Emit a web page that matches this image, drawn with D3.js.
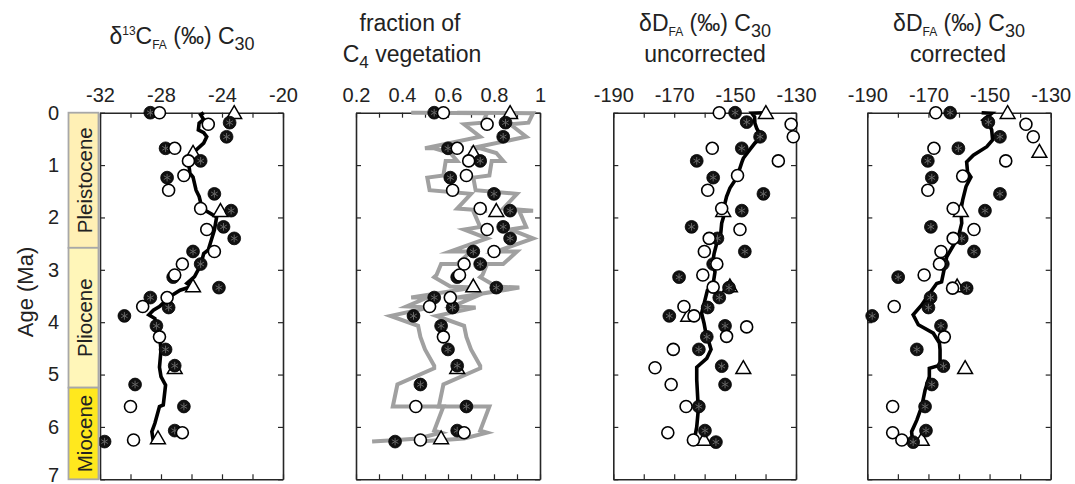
<!DOCTYPE html>
<html><head><meta charset="utf-8">
<script src="https://cdn.jsdelivr.net/npm/d3@7"></script>
<style>
html,body{margin:0;padding:0;background:#fff;}
svg{display:block;font-family:"Liberation Sans",Arial,Helvetica,sans-serif;}
</style></head>
<body>
<svg id="chart" width="1075" height="484"></svg>
<script>
// ---------------- DATA ----------------
const yTickValues = [0,1,2,3,4,5,6,7];
const epochNames = ["Pleistocene","Pliocene","Miocene"];
const epochStart = [0, 2.58, 5.25];
const epochEnd   = [2.58, 5.25, 7];
const epochColors = ["#FFF0B5","#FFF6B9","#FFE81E"];

// panel 1 & 2 sample ages
const ageFilled12 = [0.00,0.19,0.46,0.68,0.92,1.24,1.55,1.87,2.18,2.40,2.65,2.89,3.14,3.34,3.53,3.72,3.88,4.07,4.52,4.83,5.19,5.61,6.07,6.28];
const ageOpen12   = [0.00,0.22,0.68,0.92,1.20,1.48,1.83,2.23,2.65,2.89,3.10,3.53,3.70,4.28,5.61,6.11,6.25];
const ageTri12    = [0.01,0.77,1.88,3.32,4.88,6.22];

const d13cFilled = [-28.7,-23.5,-23.7,-27.7,-25.4,-27.6,-24.5,-23.4,-23.9,-23.2,-25.9,-25.4,-27.2,-24.2,-28.7,-27.5,-30.4,-28.3,-27.7,-27.1,-29.7,-26.5,-27.1,-31.7];
const d13cOpen   = [-28.1,-24.9,-27.1,-26.2,-26.5,-27.5,-25.4,-25.0,-24.5,-26.6,-27.1,-27.6,-29.2,-28.1,-30.0,-26.6,-29.8];
const d13cTri    = [-23.2,-25.9,-24.1,-25.9,-27.1,-28.2];
const d13cLineAge = [0.00,0.04,0.13,0.20,0.33,0.38,0.46,0.58,0.74,0.84,0.94,1.16,1.23,1.48,1.60,1.83,1.95,1.99,2.24,2.43,2.62,2.69,2.91,3.13,3.26,3.32,3.39,3.51,3.70,3.77,3.86,3.93,4.09,4.24,4.53,4.86,5.04,5.20,5.58,5.61,5.93,6.09,6.28];
const d13cLine    = [-25.2,-25.4,-25.2,-25.5,-25.55,-25.2,-25.0,-25.2,-25.8,-25.9,-26.2,-26.1,-25.9,-25.7,-25.5,-25.3,-24.6,-24.35,-24.5,-24.7,-24.9,-25.2,-25.4,-25.8,-26.3,-26.0,-26.75,-27.4,-28.1,-28.5,-28.8,-28.4,-28.3,-28.1,-28.0,-28.1,-28.0,-27.7,-27.85,-28.1,-28.4,-28.6,-28.5];

const c4Filled = [0.54,0.85,0.84,0.60,0.74,0.61,0.80,0.87,0.84,0.87,0.71,0.74,0.64,0.81,0.54,0.62,0.45,0.57,0.60,0.64,0.48,0.68,0.64,0.37];
const c4Open   = [0.58,0.77,0.64,0.69,0.68,0.62,0.74,0.77,0.80,0.67,0.65,0.61,0.52,0.58,0.46,0.67,0.48];
const c4Tri    = [0.87,0.71,0.81,0.71,0.64,0.57];
const c4BandAge = [0.00,0.00,0.01,0.19,0.22,0.46,0.68,0.68,0.77,0.92,0.92,1.20,1.24,1.48,1.55,1.83,1.87,1.88,2.18,2.23,2.40,2.65,2.65,2.89,2.89,3.10,3.14,3.32,3.34,3.53,3.53,3.70,3.72,3.88,4.07,4.28,4.52,4.83,4.88,5.19,5.61,5.61,6.07,6.11,6.22,6.25,6.28];
const c4BandLow  = [0.44,0.48,0.77,0.75,0.67,0.74,0.50,0.54,0.61,0.64,0.59,0.58,0.51,0.52,0.70,0.64,0.77,0.71,0.74,0.67,0.77,0.61,0.70,0.64,0.57,0.55,0.54,0.61,0.71,0.44,0.51,0.42,0.52,0.35,0.47,0.48,0.50,0.54,0.54,0.38,0.36,0.58,0.54,0.57,0.47,0.38,0.27];
const c4BandHigh = [0.64,0.68,0.97,0.95,0.87,0.94,0.70,0.74,0.81,0.84,0.79,0.78,0.71,0.72,0.90,0.84,0.97,0.91,0.94,0.87,0.97,0.81,0.90,0.84,0.77,0.75,0.74,0.81,0.91,0.64,0.71,0.62,0.72,0.55,0.67,0.68,0.70,0.74,0.74,0.58,0.56,0.78,0.74,0.77,0.67,0.58,0.47];

// panel 3 (dD uncorrected)
const ageFilled3 = [0.00,0.18,0.46,0.68,0.92,1.24,1.55,1.87,2.18,2.40,2.65,2.89,3.14,3.34,3.53,3.72,3.88,4.07,4.28,4.52,4.84,5.19,5.61,6.07,6.29];
const dDuncFilled = [-150.0,-146.2,-141.8,-147.8,-162.6,-157.2,-140.7,-147.8,-164.3,-155.8,-146.8,-157.2,-168.4,-152.0,-155.2,-159.0,-171.6,-153.3,-159.3,-161.9,-154.4,-153.3,-161.9,-159.9,-156.3];
const ageOpen3 = [0.00,0.22,0.46,0.68,0.92,1.20,1.48,1.83,2.23,2.40,2.65,2.89,3.10,3.33,3.70,3.88,4.09,4.27,4.52,4.87,5.19,5.61,6.11,6.25];
const dDuncOpen = [-155.2,-131.6,-130.9,-157.5,-135.8,-149.2,-159.0,-154.4,-148.4,-158.5,-160.1,-156.0,-160.6,-157.2,-166.8,-163.5,-146.2,-152.8,-170.3,-176.3,-171.0,-166.1,-172.1,-163.7];
const ageTri3 = [0.01,1.88,3.32,3.88,4.88,6.25];
const dDuncTri = [-139.9,-153.9,-151.7,-165.4,-147.3,-160.2];
const dDuncLineAge = [0.00,0.01,0.08,0.20,0.30,0.46,0.58,0.70,0.87,0.95,1.09,1.29,1.44,1.60,1.79,1.95,2.11,2.30,2.49,2.69,2.88,3.04,3.26,3.39,3.58,3.83,4.02,4.21,4.34,4.52,4.69,4.86,5.10,5.42,5.68,6.00,6.19,6.28];
const dDuncLine = [-140.5,-144.5,-143.6,-143.5,-142.9,-141.3,-143.5,-145.1,-147.3,-147.8,-148.6,-150.0,-151.7,-152.8,-153.6,-153.6,-154.4,-154.7,-156.0,-156.9,-157.4,-156.6,-157.2,-159.1,-159.9,-161.0,-160.2,-159.6,-158.8,-157.9,-159.3,-162.6,-162.6,-162.3,-162.1,-162.6,-163.2,-162.9];

// panel 4 (dD corrected)
const ageFilled4 = [0.00,0.18,0.46,0.68,0.92,1.24,1.55,1.87,2.18,2.40,2.65,2.89,3.14,3.35,3.53,3.72,3.88,4.07,4.52,4.84,5.19,5.61,6.07,6.29];
const dDcorFilled = [-162.9,-150.4,-146.6,-160.2,-170.2,-168.9,-146.6,-151.5,-169.2,-159.1,-155.1,-165.3,-179.9,-157.5,-169.3,-170.0,-188.4,-165.9,-173.8,-165.1,-168.9,-171.1,-170.8,-175.0];
const ageOpen4 = [0.00,0.22,0.46,0.68,0.92,1.21,1.48,1.83,2.23,2.40,2.65,2.89,3.10,3.35,3.70,4.28,5.61,6.11,6.25];
const dDcorOpen = [-167.6,-138.1,-135.7,-168.2,-144.7,-158.8,-170.2,-161.9,-155.1,-161.9,-165.9,-166.4,-171.4,-162.1,-181.2,-164.8,-181.7,-181.7,-178.7];
const ageTri4 = [0.01,0.75,1.88,3.32,4.88,6.25];
const dDcorTri = [-144.1,-133.7,-159.4,-160.6,-158.0,-172.2];
const dDcorLineAge = [0.00,0.01,0.14,0.22,0.33,0.52,0.65,0.81,0.94,1.13,1.23,1.41,1.67,1.86,2.11,2.37,2.56,2.75,3.00,3.23,3.26,3.48,3.67,3.86,4.05,4.21,4.40,4.53,4.82,4.88,5.04,5.30,5.61,5.87,6.09,6.29];
const dDcorLine = [-152.6,-149.3,-152.1,-150.1,-149.3,-149.0,-150.9,-155.3,-157.5,-157.2,-156.1,-157.7,-158.8,-159.4,-159.1,-160.2,-162.1,-164.0,-164.9,-165.7,-167.3,-170.0,-172.2,-175.0,-173.3,-168.4,-166.4,-166.2,-166.2,-169.7,-169.7,-171.1,-172.2,-173.8,-175.5,-175.2];

// axis ticks
const d13cTicks = [-32,-30,-28,-26,-24,-22,-20];
const d13cLabels = [-32,-28,-24,-20];
const c4Ticks = [0.2,0.3,0.4,0.5,0.6,0.7,0.8,0.9,1.0];
const c4Labels = [0.2,0.4,0.6,0.8,1];
const dDTicks = [-190,-180,-170,-160,-150,-140,-130];
const dDLabels = [-190,-170,-150,-130];

// ---------------- LAYOUT ----------------
const svg = d3.select("#chart");
const yTop = 112.7, yBot = 479.3;
const y = d3.scaleLinear().domain([0,7]).range([yTop, yBot]);
const axisColor = "#262626";

const panels = [
  {x0:100, x1:283, domain:[-32,-20], ticks:d13cTicks, labels:d13cLabels,
   fA:ageFilled12, fV:d13cFilled, oA:ageOpen12, oV:d13cOpen, tA:ageTri12, tV:d13cTri,
   lA:d13cLineAge, lV:d13cLine},
  {x0:356, x1:540, domain:[0.2,1], ticks:c4Ticks, labels:c4Labels,
   fA:ageFilled12, fV:c4Filled, oA:ageOpen12, oV:c4Open, tA:ageTri12, tV:c4Tri,
   band:true},
  {x0:613.3, x1:796, domain:[-190,-130], ticks:dDTicks, labels:dDLabels,
   fA:ageFilled3, fV:dDuncFilled, oA:ageOpen3, oV:dDuncOpen, tA:ageTri3, tV:dDuncTri,
   lA:dDuncLineAge, lV:dDuncLine},
  {x0:867.3, x1:1050.7, domain:[-190,-130], ticks:dDTicks, labels:dDLabels,
   fA:ageFilled4, fV:dDcorFilled, oA:ageOpen4, oV:dDcorOpen, tA:ageTri4, tV:dDcorTri,
   lA:dDcorLineAge, lV:dDcorLine}
];

const fmt = v => String(v);

panels.forEach((p, i) => {
  const x = d3.scaleLinear().domain(p.domain).range([p.x0, p.x1]);
  const g = svg.append("g");
  const isLab = v => p.labels.some(l => Math.abs(l - v) < 1e-9);

  g.append("g").attr("transform", `translate(0,${yTop})`)
    .call(d3.axisTop(x).tickValues(p.ticks).tickSizeInner(-5).tickSizeOuter(0).tickPadding(11)
      .tickFormat(v => isLab(v) ? fmt(v) : ""));
  g.append("g").attr("transform", `translate(0,${yBot})`)
    .call(d3.axisBottom(x).tickValues(p.ticks).tickSizeInner(-5).tickSizeOuter(0).tickFormat(""));
  const la = g.append("g").attr("transform", `translate(${p.x0},0)`)
    .call(d3.axisLeft(y).tickValues(yTickValues).tickSizeInner(-5).tickSizeOuter(0).tickPadding(41)
      .tickFormat(v => i === 0 ? String(v) : ""));
  g.append("g").attr("transform", `translate(${p.x1},0)`)
    .call(d3.axisRight(y).tickValues(yTickValues).tickSizeInner(-5).tickSizeOuter(0).tickFormat(""));

  g.selectAll(".domain").attr("stroke", axisColor).attr("stroke-width", 1.6);
  g.selectAll(".tick line").attr("stroke", axisColor).attr("stroke-width", 1.2);
  g.selectAll(".tick text").attr("fill", "#222").attr("font-size", 20)
    .attr("font-family", '"Liberation Sans",Arial,Helvetica,sans-serif');
  // keep the bottom label "7" inside the picture
  la.selectAll(".tick text").filter(v => v === 7).attr("dy", "0.1em");

  const line = d3.line().x(d => x(d[1])).y(d => y(d[0]));

  if (p.band) {
    const lo = c4BandAge.map((a, k) => [a, c4BandLow[k]]);
    const hi = c4BandAge.map((a, k) => [a, c4BandHigh[k]]);
    [lo, hi].forEach(arr => {
      g.append("path").attr("d", line(arr)).attr("fill", "none")
        .attr("stroke", "#a0a0a0").attr("stroke-width", 4)
        .attr("stroke-linejoin", "miter").attr("stroke-miterlimit", 6);
    });
  }
  if (p.lA) {
    const arr = p.lA.map((a, k) => [a, p.lV[k]]);
    g.append("path").attr("d", line(arr)).attr("fill", "none")
      .attr("stroke", "#000").attr("stroke-width", 3.6)
      .attr("stroke-linejoin", "miter").attr("stroke-miterlimit", 6);
  }

  const tri = d3.symbol(d3.symbolTriangle, 95);
  g.selectAll(".tri").data(p.tA.map((a, k) => [a, p.tV[k]])).join("path")
    .attr("d", tri).attr("transform", d => `translate(${x(d[1])},${y(d[0]) + 1})`)
    .attr("fill", "#fff").attr("stroke", "#000").attr("stroke-width", 1.5);

  const fData = p.fA.map((a, k) => [a, p.fV[k]]);
  g.selectAll(".fc").data(fData).join("circle")
    .attr("cx", d => x(d[1])).attr("cy", d => y(d[0])).attr("r", 6.4)
    .attr("fill", "#111").attr("stroke", "#000").attr("stroke-width", 0.8);
  const ast = d3.symbol(d3.symbolAsterisk, 40);
  g.selectAll(".fa").data(fData).join("path")
    .attr("d", ast).attr("transform", d => `translate(${x(d[1])},${y(d[0])})`)
    .attr("fill", "none").attr("stroke", "#666").attr("stroke-width", 1);

  g.selectAll(".oc").data(p.oA.map((a, k) => [a, p.oV[k]])).join("circle")
    .attr("cx", d => x(d[1])).attr("cy", d => y(d[0])).attr("r", 6)
    .attr("fill", "#fff").attr("stroke", "#000").attr("stroke-width", 1.6);
});

// epoch bar
const eg = svg.append("g");
epochNames.forEach((name, k) => {
  eg.append("rect").attr("x", 68.5).attr("width", 30)
    .attr("y", y(epochStart[k])).attr("height", y(epochEnd[k]) - y(epochStart[k]))
    .attr("fill", epochColors[k]).attr("stroke", "#a8a8a8").attr("stroke-width", 1.8);
  const cy = (y(epochStart[k]) + y(epochEnd[k])) / 2;
  eg.append("text").attr("transform", `translate(84.5,${cy}) rotate(-90)`)
    .attr("text-anchor", "middle").attr("dominant-baseline", "central")
    .attr("font-size", 20.5).attr("fill", "#222").text(name);
});

// y-axis label
svg.append("text").attr("transform", `translate(25,${(yTop + yBot) / 2 - 4}) rotate(-90)`)
  .attr("text-anchor", "middle").attr("dominant-baseline", "central")
  .attr("font-size", 22).attr("fill", "#222").text("Age (Ma)");

// titles
function deltaTitle(cx, yb, iso) {
  const t = svg.append("text").attr("x", cx).attr("y", yb).attr("text-anchor", "middle")
    .attr("font-size", 23).attr("fill", "#222");
  t.append("tspan").text("δ");
  if (iso === "13C") {
    t.append("tspan").attr("font-size", 12).attr("dy", -9).text("13");
    t.append("tspan").attr("dy", 9).text("C");
  } else {
    t.append("tspan").text("D");
  }
  t.append("tspan").attr("font-size", 12).attr("dy", 5).text("FA");
  t.append("tspan").attr("dy", -5).text(" (‰) C");
  t.append("tspan").attr("font-size", 18).attr("dy", 6).text("30");
  return t;
}
deltaTitle(182, 44, "13C");
svg.append("text").attr("x", 410).attr("y", 31).attr("text-anchor", "middle")
  .attr("font-size", 23).attr("fill", "#222").text("fraction of");
const ft2 = svg.append("text").attr("x", 412).attr("y", 62).attr("text-anchor", "middle")
  .attr("font-size", 23).attr("fill", "#222");
ft2.append("tspan").text("C");
ft2.append("tspan").attr("font-size", 17).attr("dy", 6).text("4");
ft2.append("tspan").attr("dy", -6).text(" vegetation");

deltaTitle(705, 31, "D");
svg.append("text").attr("x", 705).attr("y", 62).attr("text-anchor", "middle")
  .attr("font-size", 23).attr("fill", "#222").text("uncorrected");
deltaTitle(959, 31, "D");
svg.append("text").attr("x", 958).attr("y", 62).attr("text-anchor", "middle")
  .attr("font-size", 23).attr("fill", "#222").text("corrected");
</script>
</body></html>
